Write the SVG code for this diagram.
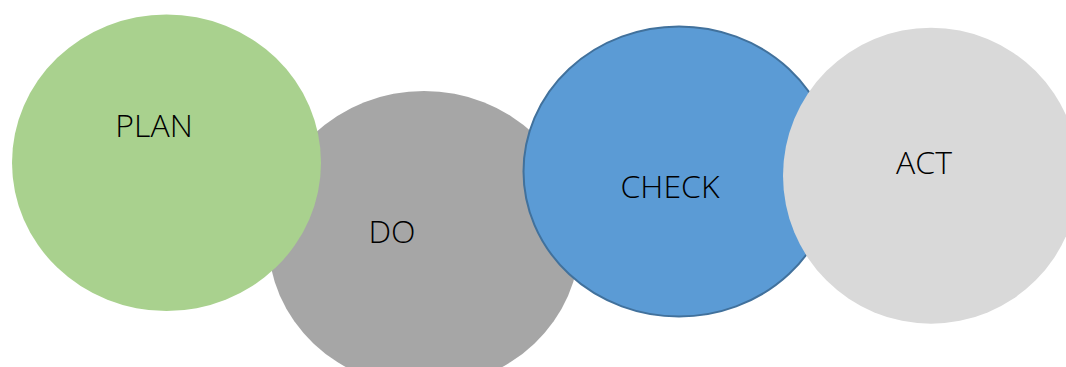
<svg xmlns="http://www.w3.org/2000/svg" width="1066" height="367" viewBox="0 0 1066 367">
<style>
.lbl{font-family:"Open Sans","Noto Sans","Liberation Sans",sans-serif;font-weight:300;font-size:32px;fill:#000;text-anchor:middle}
</style>
<rect width="1066" height="367" fill="#fff"/>
<g id="connectors"/>
<g id="node-do">
<ellipse cx="424" cy="239" rx="156" ry="148" fill="#a6a6a6"/>
<text class="lbl" x="392" y="243">DO</text>
</g>
<g id="node-plan">
<ellipse cx="166.5" cy="162.7" rx="154.5" ry="148.3" fill="#a9d18e"/>
<text class="lbl" x="154" y="137">PLAN</text>
</g>
<g id="node-check">
<ellipse cx="679" cy="171.5" rx="155.5" ry="145" fill="#5b9bd5" stroke="#41719c" stroke-width="2"/>
<text class="lbl" x="670" y="198">CHECK</text>
</g>
<g id="node-act">
<ellipse cx="931" cy="175.7" rx="148" ry="148" fill="#d9d9d9"/>
<text class="lbl" x="924" y="174">ACT</text>
</g>
</svg>
